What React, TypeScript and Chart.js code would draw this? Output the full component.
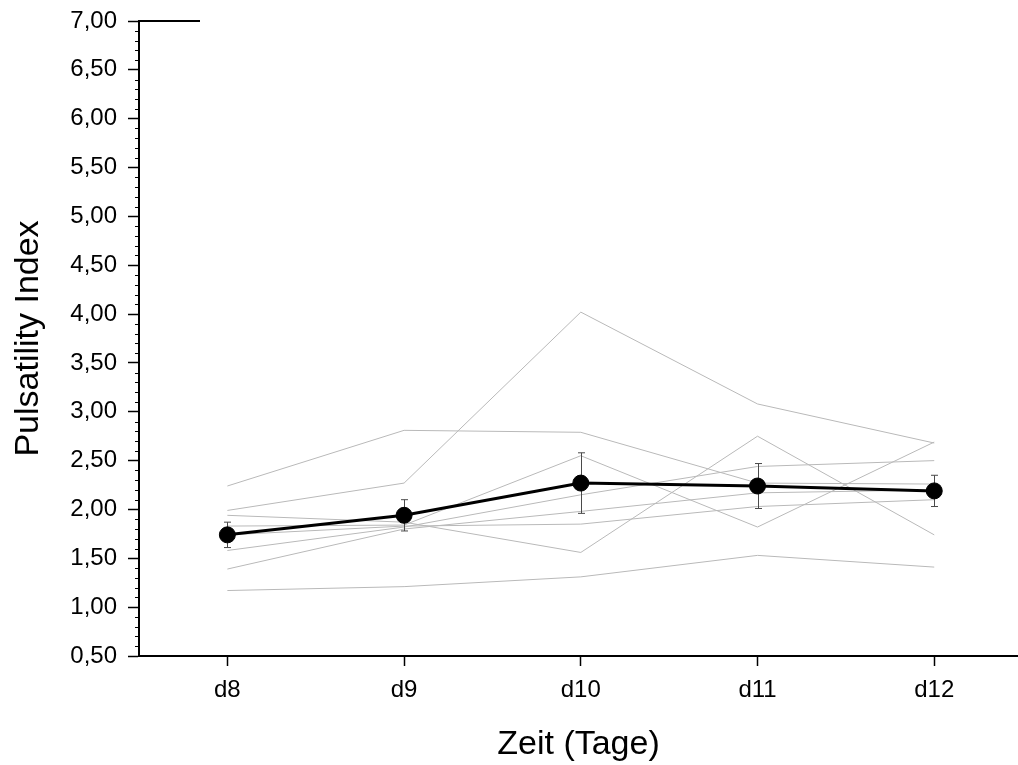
import React, { useEffect, useRef } from 'react';
import { Chart, registerables } from 'chart.js';

Chart.register(...registerables);

// ---- data ----
const categories = ['d8', 'd9', 'd10', 'd11', 'd12'];
const meanValues = [1.74, 1.94, 2.27, 2.24, 2.19];
const errorValues = [0.13, 0.16, 0.31, 0.23, 0.16];

const subject1 = [1.99, 2.27, 4.02, 3.08, 2.68];
const subject2 = [2.24, 2.81, 2.79, 2.27, 2.26];
const subject3 = [1.83, 1.84, 2.55, 1.82, 2.69];
const subject4 = [1.94, 1.87, 1.56, 2.75, 1.74];
const subject5 = [1.58, 1.82, 2.15, 2.44, 2.5];
const subject6 = [1.39, 1.8, 1.98, 2.17, 2.2];
const subject7 = [1.74, 1.83, 1.85, 2.03, 2.1];
const subject8 = [1.17, 1.21, 1.31, 1.53, 1.41];
const subjects = [subject1, subject2, subject3, subject4, subject5, subject6, subject7, subject8];

const yMin = 0.5;
const yMax = 7.0;
const yStep = 0.5;
const yMinorStep = 0.1;

const xTitle = 'Zeit (Tage)';
const yTitle = 'Pulsatility Index';

const FONT = '"Liberation Sans", Arial, Helvetica, sans-serif';
const W = 1018;
const H = 765;

const toPoints = (arr: number[]) => arr.map((v, i) => ({ x: i, y: v }));

const clearPadding = (scale: any) => {
  scale.paddingTop = 0;
  scale.paddingBottom = 0;
  scale.paddingLeft = 0;
  scale.paddingRight = 0;
};

const errorBarPlugin = {
  id: 'errorBars',
  beforeDatasetDraw(chart: any, args: any) {
    if (args.index !== 0) return;
    const { ctx } = chart;
    const x = chart.scales.x;
    const y = chart.scales.y;
    ctx.save();
    ctx.strokeStyle = '#4a4a4a';
    ctx.lineWidth = 1;
    ctx.beginPath();
    meanValues.forEach((m, i) => {
      const px = Math.round(x.getPixelForValue(i)) + 0.5;
      const top = y.getPixelForValue(m + errorValues[i]);
      const bot = y.getPixelForValue(m - errorValues[i]);
      ctx.moveTo(px, top);
      ctx.lineTo(px, bot);
      ctx.moveTo(px - 3.5, top);
      ctx.lineTo(px + 3.5, top);
      ctx.moveTo(px - 3.5, bot);
      ctx.lineTo(px + 3.5, bot);
    });
    ctx.stroke();
    ctx.restore();
  },
};

const minorTickPlugin = {
  id: 'minorTicks',
  afterDraw(chart: any) {
    const { ctx, chartArea } = chart;
    const y = chart.scales.y;
    ctx.save();
    ctx.strokeStyle = '#000';
    ctx.lineWidth = 1;
    ctx.beginPath();
    const n = Math.round((yMax - yMin) / yMinorStep);
    const per = Math.round(yStep / yMinorStep);
    for (let k = 0; k <= n; k++) {
      if (k % per === 0) continue;
      const v = yMin + k * yMinorStep;
      const py = Math.round(y.getPixelForValue(v)) + 0.5;
      ctx.moveTo(chartArea.left - 4, py);
      ctx.lineTo(chartArea.left, py);
    }
    ctx.stroke();
    // short top frame stub at the max value
    ctx.lineWidth = 2;
    ctx.beginPath();
    const pt = y.getPixelForValue(yMax);
    ctx.moveTo(chartArea.left, pt);
    ctx.lineTo(chartArea.left + 61, pt);
    ctx.stroke();
    ctx.restore();
  },
};

export default function App() {
  const ref = useRef<HTMLCanvasElement | null>(null);

  useEffect(() => {
    if (!ref.current) return;
    const datasets: any[] = [
      {
        label: 'Mittelwert',
        data: toPoints(meanValues),
        borderColor: '#000',
        backgroundColor: '#000',
        borderWidth: 3,
        pointRadius: 8,
        pointBackgroundColor: '#000',
        pointBorderColor: '#000',
        pointBorderWidth: 1,
        tension: 0,
      },
      ...subjects.map((s, i) => ({
        label: 'Proband ' + (i + 1),
        data: toPoints(s),
        borderColor: '#b9b9b9',
        borderWidth: 1,
        pointRadius: 0,
        tension: 0,
      })),
    ];

    const chart = new Chart(ref.current, {
      type: 'line',
      data: { datasets },
      plugins: [errorBarPlugin, minorTickPlugin],
      options: {
        animation: false,
        responsive: false,
        maintainAspectRatio: false,
        devicePixelRatio: 1,
        layout: { autoPadding: false, padding: { top: 21, left: 0, right: 0, bottom: 0 } },
        plugins: {
          legend: { display: false },
          tooltip: { enabled: false },
        },
        scales: {
          x: {
            type: 'linear',
            min: -0.5,
            max: 4.474,
            afterBuildTicks: (scale: any) => {
              scale.ticks = categories.map((_, i) => ({ value: i }));
            },
            afterFit: (scale: any) => {
              scale.height = 109;
              clearPadding(scale);
            },
            ticks: {
              callback: (v: any) => categories[v] ?? '',
              color: '#000',
              font: { family: FONT, size: 24 },
              padding: 10,
              maxRotation: 0,
              autoSkip: false,
            },
            grid: {
              drawOnChartArea: false,
              drawTicks: true,
              tickLength: 10,
              tickColor: '#000',
              tickWidth: 1.5,
            },
            border: { display: true, color: '#000', width: 2 },
            title: {
              display: true,
              text: xTitle,
              color: '#000',
              font: { family: FONT, size: 34 },
              padding: { top: 0, bottom: 0 },
            },
          },
          y: {
            type: 'linear',
            min: yMin,
            max: yMax,
            afterFit: (scale: any) => {
              scale.width = 139;
              clearPadding(scale);
            },
            ticks: {
              stepSize: yStep,
              callback: (v: any) => Number(v).toFixed(2).replace('.', ','),
              color: '#000',
              font: { family: FONT, size: 24 },
              padding: 11,
            },
            grid: {
              drawOnChartArea: false,
              drawTicks: true,
              tickLength: 11,
              tickColor: '#000',
              tickWidth: 1.5,
            },
            border: { display: true, color: '#000', width: 2 },
            title: {
              display: true,
              text: yTitle,
              color: '#000',
              font: { family: FONT, size: 34 },
              padding: { top: 8, bottom: 0 },
            },
          },
        },
      } as any,
    });
    return () => chart.destroy();
  }, []);

  return (
    <div style={{ position: 'absolute', left: 0, top: 0, width: W, height: H, background: '#fff', overflow: 'hidden' }}>
      <canvas ref={ref} width={W} height={H} style={{ display: 'block', width: W, height: H }} />
    </div>
  );
}
